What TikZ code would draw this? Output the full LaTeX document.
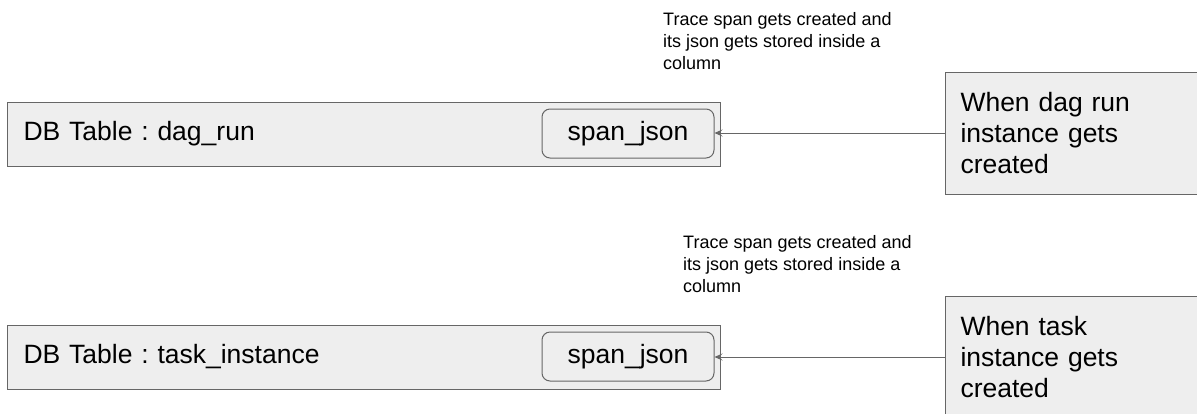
\documentclass[tikz,border=0pt]{standalone}
\usepackage{fontspec}
\setmainfont{Liberation Sans}
\usetikzlibrary{arrows.meta}
\frenchspacing
\definecolor{boxfill}{HTML}{EEEEEE}
\definecolor{boxline}{HTML}{666666}
\tikzset{
  x=1pt, y=-1pt,
  tablebox/.style={draw=boxline, fill=boxfill, line width=1pt, anchor=west,
    minimum width=713pt, minimum height=64pt, inner xsep=16pt,
    text width=681pt, align=left,
    font=\fontsize{26.5}{31}\selectfont},
  fieldbox/.style={draw=boxline, fill=boxfill, line width=1pt, rounded corners=8pt,
    minimum width=172pt, minimum height=49pt, inner sep=0pt,
    font=\fontsize{26.5}{31}\selectfont},
  eventbox/.style={draw=boxline, fill=boxfill, line width=1pt, anchor=west,
    minimum width=280pt, minimum height=122pt, inner xsep=15pt,
    text width=250pt, align=left,
    font=\fontsize{26.5}{31}\selectfont},
  note/.style={anchor=north west, inner sep=0pt, align=left,
    font=\fontsize{18}{22}\selectfont},
  feed/.style={draw=boxline, line width=1pt,
    -{Stealth[length=8pt, width=7pt, inset=3pt]}},
}
\begin{document}
\begin{tikzpicture}
\useasboundingbox (0,0) rectangle (1197,413);
\clip (0,0) rectangle (1197,413);

% dag_run table and its trigger
\node[tablebox] (dagtable) at (7,134) {DB Table : dag\_run};
\node[fieldbox] (dagspan) at (628,133.5) {span\_json};
\node[eventbox] (dagevent) at (945,133) {When dag run\\instance gets\\created};
\node[note] (dagnote) at (663,12.5) {Trace span gets created and\\its json gets stored inside a\\column};
\draw[feed] (dagevent.west) -- (dagevent.west -| dagspan.east);

% task_instance table and its trigger
\node[tablebox] (tasktable) at (7,357) {DB Table : task\_instance};
\node[fieldbox] (taskspan) at (628,356.5) {span\_json};
\node[eventbox] (taskevent) at (945,357) {When task\\instance gets\\created};
\node[note] (tasknote) at (683,235) {Trace span gets created and\\its json gets stored inside a\\column};
\draw[feed] (taskevent.west) -- (taskevent.west -| taskspan.east);
\end{tikzpicture}
\end{document}
